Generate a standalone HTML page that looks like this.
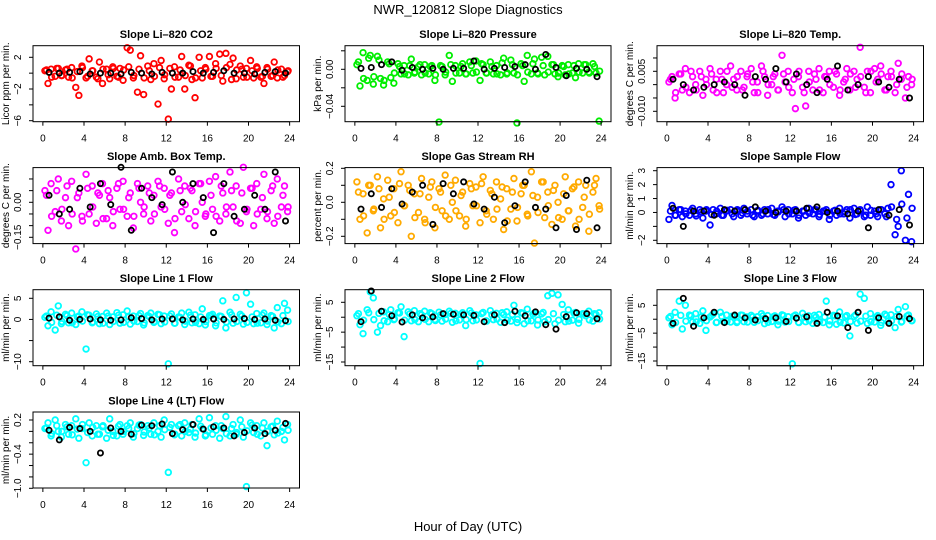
<!DOCTYPE html>
<html><head><meta charset="utf-8">
<style>
html,body{margin:0;padding:0;background:#fff}
svg{display:block}
text{font-family:"Liberation Sans",Arial,sans-serif}
</style></head>
<body>
<svg id="chart" width="936" height="540" viewBox="0 0 936 540" xmlns="http://www.w3.org/2000/svg">
<text x="468" y="14" text-anchor="middle" font-size="13">NWR_120812  Slope Diagnostics</text>
<text x="468" y="531" text-anchor="middle" font-size="13">Hour of Day (UTC)</text>
</svg>
<script>
const hoursColored=[0.2,0.5,0.8,1.2,1.5,1.8,2.2,2.5,2.8,3.2,3.5,3.8,4.2,4.5,4.8,5.2,5.5,5.8,6.2,6.5,6.8,7.2,7.5,7.8,8.2,8.5,8.8,9.2,9.5,9.8,10.2,10.5,10.8,11.2,11.5,11.8,12.2,12.5,12.8,13.2,13.5,13.8,14.2,14.5,14.8,15.2,15.5,15.8,16.2,16.5,16.8,17.2,17.5,17.8,18.2,18.5,18.8,19.2,19.5,19.8,20.2,20.5,20.8,21.2,21.5,21.8,22.2,22.5,22.8,23.2,23.5,23.8];
const hoursColored2=[0.35,0.85,1.35,1.85,2.35,2.85,3.35,3.85,4.35,4.85,5.35,5.85,6.35,6.85,7.35,7.85,8.35,8.85,9.35,9.85,10.35,10.85,11.35,11.85,12.35,12.85,13.35,13.85,14.35,14.85,15.35,15.85,16.35,16.85,17.35,17.85,18.35,18.85,19.35,19.85,20.35,20.85,21.35,21.85,22.35,22.85,23.35,23.85];
const hoursBlack=[0.6,1.6,2.6,3.6,4.6,5.6,6.6,7.6,8.6,9.6,10.6,11.6,12.6,13.6,14.6,15.6,16.6,17.6,18.6,19.6,20.6,21.6,22.6,23.6];
const xTicks=[0,4,8,12,16,20,24];

const co2Colored=[0.3,-1.3,0.5,-0.4,0.6,-0.3,0.4,-0.5,0.7,-1.8,-2.8,0.9,-0.6,1.8,0.3,-0.5,1.4,-1.3,0.5,-0.7,0.8,-0.4,0.6,-0.9,3.2,2.9,-0.6,-2.4,2.2,-2.7,0.9,-0.8,1.2,-3.9,1.6,-0.7,-5.8,-2.0,0.8,-0.5,2.1,-2.0,1.0,-0.8,-3.1,2.0,-0.6,0.7,2.1,-0.4,1.2,2.4,-1.0,2.5,1.1,1.9,-0.7,0.9,-0.5,0.6,1.6,-0.6,0.8,-0.5,-1.3,0.7,-0.4,1.4,-0.6,0.5,-0.3,0.2];
const co2Colored2=[0.4,-0.5,0.6,-0.3,0.5,-0.6,0.2,0.7,-0.4,0.3,-0.7,0.5,-0.2,0.6,-0.5,0.4,0.8,-0.3,0.5,-0.6,0.3,-0.4,0.7,-0.2,0.6,-0.5,0.4,-0.3,0.9,-0.6,0.3,0.5,-0.4,0.6,-0.3,0.7,-0.8,0.4,0.5,-0.5,0.3,0.6,-0.4,0.5,-0.3,0.4,-0.5,0.3];
const co2Black=[0.1,0,0.1,0.2,-0.1,0,0,-0.1,0.1,0,-0.1,0.1,0,0,0.2,0,0.1,0.3,0,0,-0.1,0.1,0.2,0];
const presColored=[0.005,-0.018,0.018,-0.012,0.015,-0.016,0.014,-0.01,-0.017,0.008,-0.009,-0.015,0.006,-0.005,0.004,-0.006,0.011,-0.004,0.003,-0.006,0.005,-0.005,0.004,-0.012,-0.057,0.003,-0.006,0.015,-0.013,0.004,-0.004,0.006,-0.005,0.008,-0.004,0.009,-0.012,0.005,-0.004,0.008,-0.005,0.004,-0.006,0.012,-0.005,0.01,-0.004,-0.058,0.006,-0.013,0.015,-0.005,0.011,-0.004,0.013,-0.006,0.014,0.005,-0.005,-0.008,0.004,-0.006,0.005,-0.004,-0.009,0.006,-0.004,0.005,-0.003,0.006,-0.004,-0.056];
const presColored2=[0.008,-0.01,0.012,-0.008,0.01,-0.012,0.006,-0.004,0.003,-0.005,0.004,-0.003,0.005,-0.004,0.003,-0.006,0.004,-0.003,0.005,-0.004,0.003,-0.005,0.004,-0.003,0.006,-0.004,0.003,-0.005,0.007,-0.004,0.005,-0.006,0.004,-0.003,0.006,-0.005,0.004,-0.003,0.005,-0.004,0.003,-0.005,0.004,-0.003,0.005,-0.004,0.003,-0.002];
const presBlack=[0.001,0.002,0.005,0.008,-0.001,0.002,0,0.001,0,0.001,0.001,0.009,0,0.001,0.002,0.003,0.005,0,0.016,0.002,-0.007,0.001,0,-0.008];
const tempColored=[0.001,0.003,-0.005,0.004,-0.002,0.006,-0.003,0.003,0.0,0.005,-0.004,0.002,0.006,-0.002,0.002,0.005,-0.003,0.0,0.007,0.002,-0.002,0.005,-0.001,0.003,0.006,-0.003,0.001,0.007,0.003,-0.004,0.0,0.004,-0.002,0.011,0.001,0.005,-0.003,-0.009,0.003,-0.001,-0.008,0.005,-0.002,0.002,0.006,-0.003,0.003,0.005,-0.001,0.004,-0.004,0.001,0.006,-0.002,0.005,0.002,0.014,-0.001,0.005,-0.003,0.006,0.002,0.007,-0.002,0.003,0.005,-0.003,0.008,0.002,-0.005,0.003,0.0];
const tempColored2=[0.002,-0.003,0.004,-0.001,0.005,-0.002,0.003,0.0,0.004,-0.003,0.002,0.005,-0.001,0.003,-0.002,0.004,0.001,-0.003,0.005,0.0,0.003,-0.002,0.004,-0.001,0.002,0.005,-0.003,0.001,0.004,-0.002,0.003,0.0,0.005,-0.002,0.002,0.004,-0.001,0.003,-0.003,0.005,0.001,0.004,-0.002,0.003,0.0,0.004,-0.001,0.002];
const tempBlack=[0.002,0.0,-0.002,-0.001,0.0,0.001,0.0,-0.004,0.003,0.002,0.006,0.001,0.004,0.0,-0.003,0.002,0.007,-0.002,0.0,0.003,0.001,-0.001,0.002,-0.005];
const boxColored=[0.05,-0.12,0.08,-0.04,0.1,-0.08,0.02,-0.1,0.09,-0.2,0.04,-0.06,0.12,-0.05,0.07,-0.09,0.03,0.08,-0.07,0.02,-0.1,0.06,-0.03,0.09,-0.06,0.04,-0.11,0.08,0.0,-0.05,0.07,-0.08,0.03,0.09,-0.02,0.06,-0.09,0.04,-0.13,0.1,-0.04,0.07,-0.07,0.05,-0.1,0.08,0.0,-0.06,0.09,-0.03,0.11,-0.08,0.04,-0.05,0.13,-0.02,0.07,-0.09,0.15,-0.04,0.06,-0.1,0.08,-0.03,0.12,-0.07,0.05,-0.09,0.1,-0.02,0.07,-0.04];
const boxColored2=[0.03,-0.06,0.05,-0.03,0.07,-0.05,0.02,-0.08,0.06,-0.02,0.04,-0.07,0.05,-0.04,0.08,-0.03,0.02,-0.06,0.06,-0.02,0.04,-0.05,0.07,-0.03,0.03,-0.07,0.05,-0.01,0.06,-0.04,0.08,-0.05,0.03,-0.06,0.07,-0.02,0.05,-0.08,0.04,-0.03,0.06,-0.05,0.02,-0.04,0.07,-0.06,0.03,-0.02];
const boxBlack=[0.03,-0.05,-0.03,0.06,-0.02,0.08,-0.01,0.15,-0.12,0.06,0.02,-0.01,0.13,0.0,0.08,0.02,-0.13,0.08,-0.06,-0.03,0.03,-0.03,0.13,-0.08];
const rhColored=[0.12,-0.1,0.05,-0.18,0.1,-0.05,0.15,-0.15,0.02,0.13,-0.08,0.08,-0.12,0.18,-0.02,0.1,-0.2,0.05,-0.06,0.14,-0.1,0.03,0.12,-0.15,0.08,-0.05,0.16,-0.1,0.0,0.13,-0.08,0.06,-0.14,0.11,-0.02,0.09,-0.12,0.15,-0.05,0.07,-0.1,0.12,0.02,-0.16,0.08,-0.04,0.14,-0.11,0.05,0.1,-0.07,0.18,-0.24,0.03,0.12,-0.09,0.06,-0.13,0.1,0.0,-0.1,0.15,-0.05,0.08,-0.14,0.12,-0.03,0.1,-0.17,0.06,0.14,-0.02];
const rhColored2=[0.06,-0.08,0.1,-0.04,0.08,-0.1,0.03,-0.06,0.11,-0.02,0.07,-0.09,0.05,-0.12,0.09,-0.03,0.06,-0.08,0.1,-0.05,0.04,-0.1,0.08,-0.02,0.11,-0.07,0.05,-0.04,0.09,-0.11,0.06,-0.03,0.1,-0.08,0.04,-0.06,0.12,-0.02,0.07,-0.09,0.05,-0.05,0.09,-0.1,0.03,-0.07,0.1,-0.04];
const rhBlack=[-0.04,0.05,-0.03,0.08,-0.01,0.06,0.1,-0.13,0.11,0.05,0.12,-0.01,-0.04,0.03,-0.12,-0.02,0.12,-0.03,-0.04,-0.15,0.04,-0.16,0.13,-0.15];
const sampleColored=[-0.5,0.5,-0.2,0.2,-0.3,0.1,-0.2,0.3,-0.1,0.2,-0.4,0.1,-0.9,0.2,-0.1,0.3,-0.2,0.1,0.2,-0.3,0.1,-0.2,0.3,-0.1,0.2,-0.3,0.1,-0.2,0.2,-0.1,0.3,-0.2,0.1,0.4,-0.3,0.2,-0.1,0.2,-0.4,0.1,-0.2,0.3,-0.1,0.2,-0.3,0.1,0.2,-0.5,0.1,-0.2,0.3,-0.1,0.2,-0.4,0.3,-0.1,0.2,-0.3,0.4,-0.2,0.1,-0.3,0.2,-0.1,0.3,2.0,-1.6,-1.0,3.0,-2.0,1.3,-2.1];
const sampleColored2=[0.1,-0.2,0.2,-0.1,0.15,-0.25,0.05,0.2,-0.15,0.1,-0.2,0.15,-0.1,0.2,-0.05,0.1,-0.2,0.15,-0.1,0.2,-0.15,0.05,0.2,-0.1,0.15,-0.2,0.1,-0.05,0.2,-0.15,0.1,-0.2,0.15,-0.1,0.05,0.2,-0.15,0.1,-0.2,0.15,-0.1,0.2,-0.3,0.4,-0.5,0.6,-0.4,0.3];
const sampleBlack=[0.3,-1.0,0.1,0.1,-0.2,0.2,0.1,0.2,0.4,0.1,0,0.1,0.1,0.3,0.4,0,0.1,-0.1,0.1,-1.1,0.2,-0.2,0.2,-0.9];
const line1Colored=[0.5,-1.5,1.8,-2.5,3.2,-1,1.2,-0.8,1.5,-1.2,0.8,1.8,-7,1,-0.8,1.3,-1,0.7,1.5,-1.2,0.6,1.6,-0.9,1.1,2,-1.1,0.8,-0.5,1.4,-1.3,0.9,1.5,-0.7,1.2,-1,0.8,-10.5,1.3,-0.9,0.6,1.5,-1.2,1.7,-0.8,1.1,-1,2.5,-1.3,0.9,1.2,-1.5,0.8,4.4,-2,1.7,-0.9,5.2,1.2,-1.1,6.3,3.6,-1,1.4,-0.8,1.5,-1.2,0.9,-2,2.8,-1,3.8,2.2];
const line1Colored2=[0.8,-0.7,1.0,-0.5,0.9,-0.8,0.6,-0.4,1.1,-0.6,0.7,-0.9,0.8,-0.5,1.0,-0.7,0.6,-0.4,0.9,-0.8,0.7,-0.5,1.1,-0.6,0.8,-0.9,0.5,-0.4,1.0,-0.7,0.6,-0.5,0.9,-0.8,0.7,-0.6,1.1,-0.5,0.8,-0.7,0.6,-0.9,1.0,-0.4,0.7,-0.6,0.9,-0.5];
const line1Black=[0.3,0.6,-0.2,0,0.1,-0.1,-0.2,-0.1,0.4,0.2,-0.1,0.1,0.1,-0.1,0.1,0,0.1,0,0.1,0.2,0,0.1,-0.2,-0.3];
const line2Colored=[0.5,-2.5,-5.5,2.5,8.5,6.5,-5,-2.8,1.8,-1.5,2.5,-0.8,1.5,3.5,-6.5,1.8,-1.2,2.2,-1.5,0.8,2.0,-1.5,1.2,-0.8,1.7,-1.3,0.9,2.0,-1.7,1.3,-0.9,1.5,-2.8,2.2,-1.2,0.8,-15.5,1.6,-1.2,2.2,-0.8,1.3,-1.7,0.9,1.8,-1.3,4.0,-1.8,1.5,-2.2,2.7,-1.2,1.4,-2.6,1.1,-1.5,7.2,8.0,-2.2,7.5,4.3,-1.5,2.5,-1,1.6,-2,1.2,0.5,2.0,-1.3,0.9,1.5];
const line2Colored2=[1.2,-1.0,1.5,-0.8,1.3,-1.2,0.9,-0.6,1.4,-1.0,1.1,-0.8,1.2,-0.7,1.5,-1.1,0.8,-0.6,1.3,-1.2,1.0,-0.8,1.4,-0.9,1.2,-1.3,0.8,-0.6,1.5,-1.0,0.9,-0.7,1.3,-1.2,1.0,-0.9,1.6,-0.8,1.2,-1.0,0.9,-1.3,1.4,-0.7,1.1,-0.9,1.2,-0.6];
const line2Black=[-1.5,8.8,2.0,0.5,-1.6,0.8,-0.2,0.1,1.2,1.0,0.8,0.6,-1.5,0.8,-1.8,2.0,0.5,1.8,-2.5,-4.0,0.2,1.5,1.2,-0.5];
const line3Colored=[0.5,-2,2.5,6.5,-3.5,5,1.5,-1,2,-1.5,3,-4,0.8,1.8,-1.2,2.5,-0.8,1.5,-1,1.1,-1.2,1.5,-0.9,0.8,1.4,-1.1,0.9,2,-1.6,1.3,-0.8,1.2,-2,1.6,-1,0.9,-16,1.5,-1.1,2.1,-0.9,1.2,-1.5,0.8,1.7,-1.2,6.5,-2,1.4,-1.8,2.6,-1.3,1.3,-6,1,-1.4,9,7.5,-1.5,2,-1,1.3,-2.2,1.8,-0.8,1.6,-3,3.5,-1,4.5,1.5,-0.5];
const line3Colored2=[1.0,-1.2,1.4,-0.7,1.2,-1.0,0.8,-0.5,1.3,-1.1,1.0,-0.7,1.1,-0.8,1.4,-1.0,0.9,-0.5,1.2,-1.1,0.9,-0.7,1.3,-0.8,1.1,-1.2,0.7,-0.5,1.4,-0.9,0.8,-0.6,1.2,-1.1,0.9,-0.8,1.5,-0.7,1.1,-0.9,0.8,-1.2,1.3,-0.6,1.0,-0.8,1.1,-0.5];
const line3Black=[-1.5,7.5,-2.5,0.5,2.5,-1.2,1.5,0.5,-0.3,0.2,0.5,-0.8,0.4,0.9,-1.5,2.5,1.2,-3,2.5,-4,0.5,-1.5,1.0,0.2];
const line4Colored=[0.05,0.15,-0.08,0.2,0.0,-0.1,0.12,-0.05,0.1,0.22,-0.12,0.05,-0.55,0.15,-0.08,0.1,-0.05,0.08,-0.12,0.22,0.0,-0.08,0.12,-0.05,0.1,0.15,-0.1,0.05,0.12,-0.07,0.1,-0.05,0.15,0.0,-0.1,0.2,-0.72,0.12,-0.06,0.1,-0.08,0.15,-0.02,0.12,-0.1,0.22,0.05,-0.08,0.24,-0.05,0.1,-0.12,0.05,0.26,-0.08,0.12,-0.05,0.2,-0.1,-0.97,0.15,-0.02,0.1,-0.08,0.15,-0.25,0.08,-0.06,0.18,0.0,-0.15,0.12];
const line4Colored2=[0.06,-0.04,0.1,0.0,0.08,-0.06,0.04,0.12,-0.02,0.07,-0.05,0.1,0.02,-0.07,0.09,0.0,0.05,-0.04,0.11,-0.01,0.06,-0.06,0.1,0.03,0.07,-0.05,0.12,0.0,0.04,-0.03,0.09,-0.06,0.06,0.02,0.1,-0.04,0.05,-0.02,0.08,0.01,0.11,-0.05,0.06,0.0,0.09,-0.03,0.07,0.02];
const line4Black=[0.02,-0.15,0.07,0.05,0.0,-0.38,0.06,0.0,-0.05,0.11,0.1,0.13,-0.04,0.03,0.12,0.04,0.08,0.06,-0.08,-0.02,0.06,-0.04,0.02,0.14];

const panels=[
 {name:'co2',title:'Slope Li\u2013820 CO2',ylab:'Licor ppm per min.',col:0,row:0,color:'#ff0000',c:co2Colored,c2:co2Colored2,b:co2Black,cal:[2,57.3,-6,120.7],ticks:[-6,-4,-2,0,2],labels:{'-6':'\u22126','-2':'\u22122','2':'2'}},
 {name:'pressure',title:'Slope Li\u2013820 Pressure',ylab:'kPa per min.',col:1,row:0,color:'#00ee00',c:presColored,c2:presColored2,b:presBlack,cal:[0,69.3,-0.04,106.3],ticks:[-0.04,-0.02,0,0.02],labels:{'0':'0.00','-0.04':'\u22120.04'}},
 {name:'temp',title:'Slope Li\u2013820 Temp.',ylab:'degrees C per min.',col:2,row:0,color:'#ff00ff',c:tempColored,c2:tempColored2,b:tempBlack,cal:[0.005,71.3,-0.010,111.3],ticks:[-0.01,-0.005,0,0.005,0.01],labels:{'0.005':'0.005','-0.01':'\u22120.010'}},
 {name:'amb-box-temp',title:'Slope Amb. Box Temp.',ylab:'degrees C per min.',col:0,row:1,color:'#ff00ff',c:boxColored,c2:boxColored2,b:boxBlack,cal:[0,202.3,-0.15,237.3],ticks:[-0.15,-0.1,-0.05,0,0.05,0.1],labels:{'0':'0.00','-0.15':'\u22120.15'}},
 {name:'gas-stream-rh',title:'Slope Gas Stream RH',ylab:'percent per min.',col:1,row:1,color:'#ffaa00',c:rhColored,c2:rhColored2,b:rhBlack,cal:[0.2,168.3,-0.2,236.3],ticks:[-0.2,-0.1,0,0.1,0.2],labels:{'0.2':'0.2','0':'0.0','-0.2':'\u22120.2'}},
 {name:'sample-flow',title:'Slope Sample Flow',ylab:'ml/min per min.',col:2,row:1,color:'#0000ff',c:sampleColored,c2:sampleColored2,b:sampleBlack,cal:[3,170.7,-2,240.3],ticks:[-2,-1,0,1,2,3],labels:{'3':'3','2':'2','1':'1','0':'0','-2':'\u22122'}},
 {name:'line1-flow',title:'Slope Line 1 Flow',ylab:'ml/min per min.',col:0,row:2,color:'#00ffff',c:line1Colored,c2:line1Colored2,b:line1Black,cal:[5,298.3,-10,361.7],ticks:[-10,-5,0,5],labels:{'5':'5','0':'0','-10':'\u221210'}},
 {name:'line2-flow',title:'Slope Line 2 Flow',ylab:'ml/min per min.',col:1,row:2,color:'#00ffff',c:line2Colored,c2:line2Colored2,b:line2Black,cal:[5,302.3,-15,362],ticks:[-15,-10,-5,0,5],labels:{'5':'5','-5':'\u22125','-15':'\u221215'}},
 {name:'line3-flow',title:'Slope Line 3 Flow',ylab:'ml/min per min.',col:2,row:2,color:'#00ffff',c:line3Colored,c2:line3Colored2,b:line3Black,cal:[5,305.3,-15,361],ticks:[-15,-10,-5,0,5],labels:{'5':'5','-5':'\u22125','-15':'\u221215'}},
 {name:'line4-lt-flow',title:'Slope Line 4 (LT) Flow',ylab:'ml/min per min.',col:0,row:3,color:'#00ffff',c:line4Colored,c2:line4Colored2,b:line4Black,cal:[0.2,420,-1.0,488.3],ticks:[-1,-0.8,-0.6,-0.4,-0.2,0,0.2],labels:{'0.2':'0.2','-0.4':'\u22120.4','-1':'\u22121.0'}}
];
const colL=[33,345,657], colR=[299.5,611,923.5], rowT=[45.7,167.6,289.7,412], boxH=76;
const NS='http://www.w3.org/2000/svg';
const svg=document.getElementById('chart');
function mk(tag,attrs,parent){const e=document.createElementNS(NS,tag);for(const k in attrs)e.setAttribute(k,attrs[k]);(parent||svg).appendChild(e);return e;}
panels.forEach(p=>{
 const L=colL[p.col],R=colR[p.col],T=rowT[p.row],B=T+boxH;
 const pad=(R-L)*0.04/1.08;
 const xs=h=>L+pad+(R-L-2*pad)*h/24;
 const [v0,y0,v1,y1]=p.cal;
 const ys=v=>y0+(v-v0)*(y1-y0)/(v1-v0);
 const g=mk('g',{});
 
 
 const t=mk('text',{x:(L+R)/2,y:T-7.5,'text-anchor':'middle','font-size':'11','font-weight':'bold'},g);
 
 
 t.textContent=p.title;
 const yl=mk('text',{x:0,y:0,'text-anchor':'middle','font-size':'10',transform:`translate(${L-24},${(T+B)/2}) rotate(-90)`},g);
 
 
 yl.textContent=p.ylab;
 const pts=mk('g',{fill:'none','stroke-width':'1.8'},g);
 
 
 p.c.forEach((v,i)=>{
  const c=mk('circle',{cx:xs(hoursColored[i]),cy:ys(v),r:2.8,stroke:p.color},pts);
  
  
 });
 p.c2.forEach((v,i)=>{
  if(hoursColored2[i]===undefined)return;
  const c=mk('circle',{cx:xs(hoursColored2[i]),cy:ys(v),r:2.8,stroke:p.color},pts);
  
  
 });
 p.b.forEach((v,i)=>{
  const c=mk('circle',{cx:xs(hoursBlack[i]),cy:ys(v),r:2.6,stroke:'#000'},pts);
  
  
 });
 const box=mk('rect',{x:L,y:T,width:R-L,height:boxH,fill:'none',stroke:'#000','stroke-width':'1'},g);
 
 
 const xa=mk('g',{},g);
 
 
 mk('line',{x1:xs(0),x2:xs(24),y1:B,y2:B,stroke:'#000'},xa);
 xTicks.forEach(h=>{
  mk('line',{x1:xs(h),x2:xs(h),y1:B,y2:B+4,stroke:'#000'},xa);
  const tx=mk('text',{x:xs(h),y:B+20,'text-anchor':'middle','font-size':'10'},xa);
  tx.textContent=String(h);
 });
 const ya=mk('g',{},g);
 
 
 const tk=p.ticks;
 mk('line',{x1:L,x2:L,y1:ys(tk[0]),y2:ys(tk[tk.length-1]),stroke:'#000'},ya);
 tk.forEach(v=>{
  mk('line',{x1:L-4,x2:L,y1:ys(v),y2:ys(v),stroke:'#000'},ya);
  const key=String(v);
  if(p.labels[key]!==undefined){
   const tx=mk('text',{x:0,y:0,'text-anchor':'middle','font-size':'10',transform:`translate(${L-12},${ys(v)}) rotate(-90)`},ya);
   tx.textContent=p.labels[key];
  }
 });
});
</script>
</body></html>
